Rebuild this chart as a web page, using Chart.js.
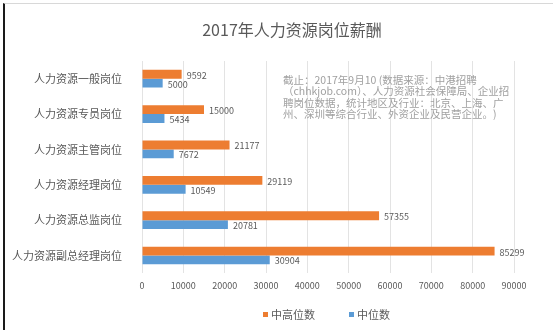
<!DOCTYPE html>
<html>
<head>
<meta charset="utf-8">
<script src="https://cdn.jsdelivr.net/npm/chart.js@4"></script>
<style>
    html, body { margin: 0; padding: 0; background: #fff; }
    #wrap { position: relative; width: 553px; height: 330px; }
    #frame { position: absolute; left: 3px; top: 3px; width: 548px; height: 327px; border-left: 2px solid #1a1a1a; border-top: 1px solid #d8d8d8; pointer-events: none; }
</style>
</head>
<body>
<div id="wrap">
    <canvas id="salaryChart" width="553" height="330"></canvas>
    <div id="frame"></div>
</div>
<script>
const categories = ['人力资源一般岗位', '人力资源专员岗位', '人力资源主管岗位', '人力资源经理岗位', '人力资源总监岗位', '人力资源副总经理岗位'];
const upperMedian = [9592, 15000, 21177, 29119, 57355, 85299];
const median = [5000, 5434, 7672, 10549, 20781, 30904];
const seriesNames = ['中高位数', '中位数'];
const chartTitle = '2017年人力资源岗位薪酬';
const noteLines = [
    '截止：2017年9月10 (数据来源：中港招聘',
    '（chhkjob.com）、人力资源社会保障局、企业招',
    '聘岗位数据，统计地区及行业：北京、上海、广',
    '州、深圳等综合行业、外资企业及民营企业。)'
];

const FONT = "'Noto Sans CJK SC', 'Noto Sans', sans-serif";

// value labels at the end of each bar
const valueLabels = {
    id: 'valueLabels',
    afterDatasetsDraw(chart) {
        const ctx = chart.ctx;
        ctx.save();
        ctx.font = `9px ${FONT}`;
        ctx.fillStyle = '#595959';
        ctx.textBaseline = 'middle';
        ctx.textAlign = 'left';
        chart.data.datasets.forEach((ds, i) => {
            chart.getDatasetMeta(i).data.forEach((bar, j) => {
                ctx.fillText(ds.data[j], bar.x + 5, bar.y + 1);
            });
        });
        ctx.restore();
    }
};

// title, source note and legend (the original puts them off-centre)
const textBits = {
    id: 'textBits',
    afterDraw(chart) {
        const ctx = chart.ctx;
        ctx.save();
        ctx.font = `16px ${FONT}`;
        ctx.fillStyle = '#595959';
        ctx.textAlign = 'center';
        ctx.textBaseline = 'middle';
        ctx.fillText(chartTitle, 292, 30);

        ctx.font = `10.5px ${FONT}`;
        ctx.fillStyle = '#a0a0a0';
        ctx.textAlign = 'left';
        noteLines.forEach((line, i) => {
            ctx.fillText(line, 283, 80 + i * 11.5);
        });

        // legend
        ctx.font = `11px ${FONT}`;
        let x = 263;
        chart.data.datasets.forEach(ds => {
            ctx.fillStyle = ds.backgroundColor;
            ctx.fillRect(x, 312, 5, 5);
            ctx.fillStyle = '#595959';
            ctx.fillText(ds.label, x + 8, 315);
            x += 8 + ctx.measureText(ds.label).width + 34;
        });
        ctx.restore();
    }
};

new Chart(document.getElementById('salaryChart').getContext('2d'), {
    type: 'bar',
    data: {
        labels: categories,
        datasets: [
            { label: seriesNames[0], data: upperMedian, backgroundColor: '#ED7D31' },
            { label: seriesNames[1], data: median, backgroundColor: '#5B9BD5' }
        ]
    },
    options: {
        indexAxis: 'y',
        responsive: false,
        animation: false,
        categoryPercentage: 0.5,
        barPercentage: 1,
        layout: { padding: { left: 0, right: 39, top: 61, bottom: 32 } },
        plugins: {
            legend: { display: false },
            tooltip: { enabled: false }
        },
        scales: {
            x: {
                min: 0,
                max: 90000,
                ticks: { stepSize: 10000, color: '#595959', font: { family: FONT, size: 9 }, padding: 7, callback: v => String(v) },
                grid: { color: '#e3e3e3', drawTicks: false },
                border: { display: false }
            },
            y: {
                ticks: { color: '#595959', font: { family: FONT, size: 11 }, padding: 12 },
                grid: { display: false },
                border: { display: false },
                afterFit(scale) { scale.width = 142; }
            }
        }
    },
    plugins: [valueLabels, textBits]
});
</script>
</body>
</html>
